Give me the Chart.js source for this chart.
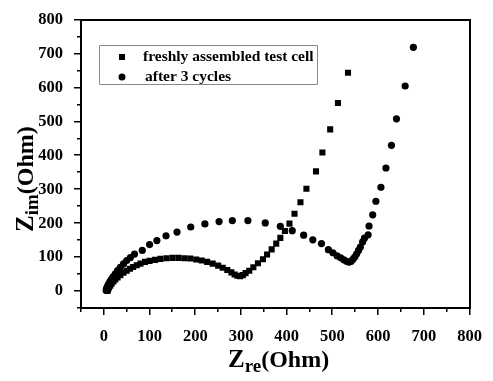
<!DOCTYPE html>
<html>
<head>
<meta charset="utf-8">
<script src="https://cdn.jsdelivr.net/npm/chart.js@4/dist/chart.umd.min.js"></script>
<style>
  body { margin: 0; background: #fff; }
  #wrap { width: 493px; height: 381px; }
</style>
</head>
<body>
<div id="wrap"><canvas id="nyquist"></canvas></div>
<script>
// freshly assembled test cell
const freshRe = [8, 9, 11, 14, 17, 21, 25, 30, 36, 43, 50, 57, 64, 72, 80, 90, 100, 112, 124, 137, 150, 163, 176, 189, 202, 214, 226, 238, 250, 260, 270, 279, 286, 292, 298, 304, 310, 318, 327, 337, 348, 357, 367, 377, 386, 396, 406, 417, 430, 443, 464, 478, 495, 512, 534];
const freshIm = [0, 5, 10, 16, 22, 28, 34, 40, 47, 54, 60, 66, 71, 76, 81, 86, 89, 92, 95, 97, 98, 98, 97, 96, 93, 90, 86, 81, 75, 69, 62, 55, 49, 45, 44, 47, 53, 60, 70, 82, 94, 108, 123, 140, 157, 177, 199, 228, 262, 302, 353, 409, 477, 555, 644];

// after 3 cycles
const cycledRe = [5, 6, 8, 10, 13, 16, 20, 25, 30, 36, 43, 50, 58, 67, 84, 100, 116, 136, 160, 190, 221, 252, 281, 315, 353, 386, 412, 437, 457, 476, 491, 501, 510, 518, 525, 531, 536, 541, 545, 549, 553, 557, 561, 566, 570, 578, 580, 588, 595, 606, 617, 629, 640, 659, 677];
const cycledIm = [2, 8, 14, 20, 27, 34, 42, 51, 60, 70, 80, 90, 99, 109, 120, 137, 149, 163, 174, 189, 198, 205, 208, 208, 201, 191, 178, 165, 151, 140, 122, 113, 104, 98, 92, 88, 85, 88, 94, 101, 110, 120, 130, 145, 156, 166, 192, 225, 265, 306, 363, 430, 508, 605, 719];

const tickValues = [0, 100, 200, 300, 400, 500, 600, 700, 800];
const legendLabels = ["freshly assembled test cell", "after 3 cycles"];

const toPoints = (xs, ys) => xs.map((x, i) => ({ x: x, y: ys[i] }));
const serif = "'Liberation Serif', 'Times New Roman', serif";

// frame, minor/major ticks, axis titles with subscripts, legend box
const decor = {
  id: "decor",
  afterDraw(chart) {
    const ctx = chart.ctx;
    const a = chart.chartArea;
    const xs = chart.scales.x, ys = chart.scales.y;
    const L = Math.round(a.left), R = Math.round(a.right);
    const T = Math.round(a.top), B = Math.round(a.bottom);
    ctx.save();
    ctx.fillStyle = "#000";
    ctx.fillRect(L - 1, T - 1, R - L + 2, 2);
    ctx.fillRect(R - 1, T - 1, 2, B - T + 2);
    ctx.fillRect(L - 1, B - 1, R - L + 2, 2);
    ctx.fillRect(L - 1, T - 1, 2, B - T + 2);

    for (let v = -50; v <= 800; v += 50) {
      const len = v % 100 === 0 ? 6 : 3;
      const px = Math.round(xs.getPixelForValue(v));
      ctx.fillRect(px - 1, B, 1.5, len + 1);
      const py = Math.round(ys.getPixelForValue(v));
      ctx.fillRect(L - len - 1, py - 1, len + 1, 1.5);
    }

    ctx.textBaseline = "alphabetic";
    ctx.textAlign = "left";
    const drawTitle = (sub, x0, y0) => {
      ctx.font = "bold 25px " + serif;
      ctx.fillText("Z", x0, y0);
      let x = x0 + ctx.measureText("Z").width;
      ctx.font = "bold 19px " + serif;
      ctx.fillText(sub, x, y0 + 5);
      x += ctx.measureText(sub).width;
      ctx.font = "bold 24px " + serif;
      ctx.fillText("(Ohm)", x, y0);
    };
    drawTitle("re", 228, 367);
    ctx.save();
    ctx.translate(33, 232);
    ctx.rotate(-Math.PI / 2);
    drawTitle("im", 0, 0);
    ctx.restore();

    // legend
    ctx.strokeStyle = "#8a8a8a";
    ctx.lineWidth = 1;
    ctx.beginPath();
    ctx.rect(99.5, 45.5, 218, 39);
    ctx.stroke();
    ctx.font = "bold 15.5px " + serif;
    ctx.textBaseline = "middle";
    ctx.fillRect(119, 54, 6, 6);
    ctx.fillText(legendLabels[0], 143, 57);
    ctx.beginPath();
    ctx.arc(122, 77, 3.5, 0, Math.PI * 2);
    ctx.fill();
    ctx.fillText(legendLabels[1], 145, 77);
    ctx.restore();
  }
};

new Chart(document.getElementById("nyquist"), {
  type: "scatter",
  data: {
    datasets: [
      {
        label: legendLabels[0],
        data: toPoints(freshRe, freshIm),
        pointStyle: "rect",
        pointRadius: 4.3,
        backgroundColor: "#000",
        borderColor: "#000",
        borderWidth: 0,
      },
      {
        label: legendLabels[1],
        data: toPoints(cycledRe, cycledIm),
        pointStyle: "circle",
        pointRadius: 3.6,
        backgroundColor: "#000",
        borderColor: "#000",
        borderWidth: 0,
      },
    ],
  },
  options: {
    responsive: true,
    maintainAspectRatio: false,
    animation: false,
    layout: { padding: { top: 14, right: 13, left: 0, bottom: 0 } },
    plugins: { legend: { display: false }, tooltip: { enabled: false } },
    scales: {
      x: {
        type: "linear",
        min: -50,
        max: 800,
        afterFit: (s) => { s.height = 73; },
        grid: { display: false },
        border: { display: false },
        ticks: {
          stepSize: 50,
          autoSkip: false,
          maxRotation: 0,
          padding: 11,
          color: "#000",
          font: { family: serif, size: 16.5, weight: "bold" },
          callback: (v) => (tickValues.includes(v) ? v : ""),
        },
      },
      y: {
        type: "linear",
        min: -50,
        max: 800,
        afterFit: (s) => { s.width = 81; },
        grid: { display: false },
        border: { display: false },
        ticks: {
          stepSize: 50,
          autoSkip: false,
          padding: 10,
          color: "#000",
          font: { family: serif, size: 16.5, weight: "bold" },
          callback: (v) => (tickValues.includes(v) ? v : ""),
        },
      },
    },
  },
  plugins: [decor],
});
</script>
</body>
</html>
